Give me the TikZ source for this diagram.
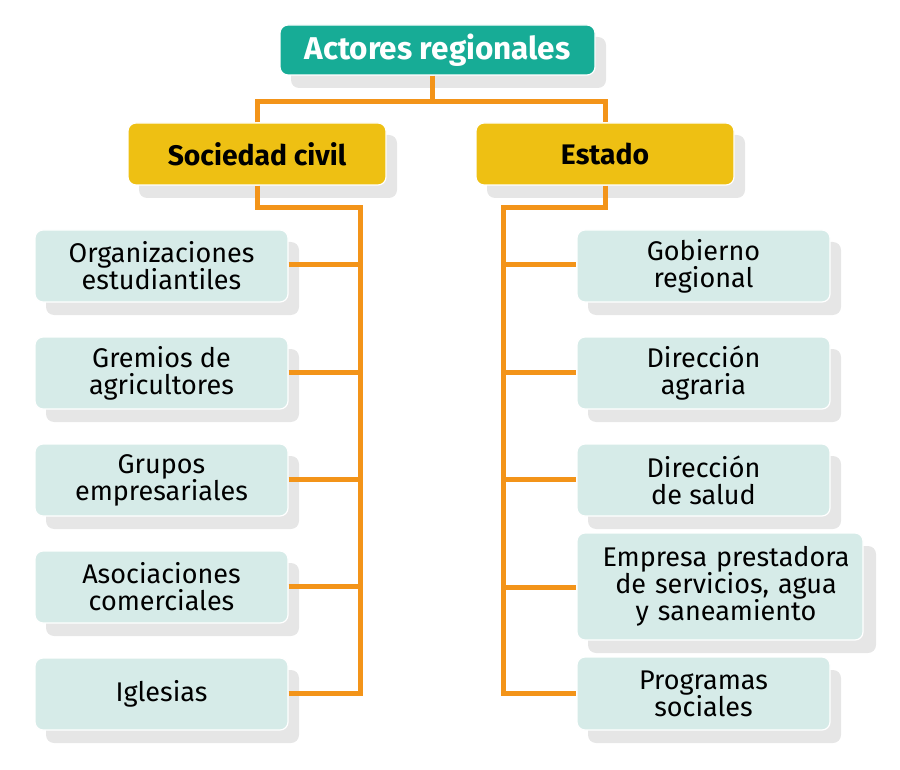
\documentclass[tikz,border=0pt]{standalone}
\usepackage{fontspec}
\setmainfont{Fira Sans}
\definecolor{teal1}{HTML}{17AC96}
\definecolor{yel}{HTML}{EEC013}
\definecolor{lbox}{HTML}{D6EBE8}
\definecolor{shad}{HTML}{E6E6E6}
\definecolor{org}{HTML}{F39419}
\tikzset{
  x=1pt,y=-1pt,
  boxbase/.style={rounded corners=8pt, draw=white, line width=1.2pt, inner sep=0pt, align=center},
  shadowbox/.style={fill=shad, rounded corners=8pt},
  leafbox/.style={boxbase, fill=lbox, minimum width=253pt, minimum height=72pt, font=\fontsize{27}{27}\selectfont},
  midbox/.style={boxbase, fill=yel, minimum width=258pt, minimum height=62pt, font=\bfseries\fontsize{28.3}{30}\selectfont},
  topbox/.style={boxbase, fill=teal1, text=white, minimum width=315pt, minimum height=50pt, font=\bfseries\fontsize{31.5}{33}\selectfont},
  conn/.style={draw=org, line width=5pt}
}
\begin{document}
\begin{tikzpicture}
\useasboundingbox (0,0) rectangle (900,770);
% shadows
\fill[shadowbox] (291,37) rectangle (606,88);
\fill[shadowbox] (139,135) rectangle (397,198);
\fill[shadowbox] (487,135) rectangle (745,198);
\foreach \y in {230,337,444,551,658}{
  \fill[shadowbox] (46,\y+12) rectangle (299,\y+85);
}
\foreach \y in {230,337,444}{
  \fill[shadowbox] (588,\y+12) rectangle (841,\y+85);
}
\fill[shadowbox] (588,546) rectangle (876,653);
\fill[shadowbox] (588,670) rectangle (841,743);
% junction points
\coordinate (tj) at (432,102);
\coordinate (lj) at (360,208);
\coordinate (rj) at (503,208);
\node[topbox] (top) at (437.5,50) {Actores regionales};
\node[midbox] (sc) at (257,154) {Sociedad civil};
\node[midbox] (es) at (605,154) {Estado};
\node[leafbox] (l1) at (161.5,266) {Organizaciones\\estudiantiles};
\node[leafbox] (l2) at (161.5,373) {Gremios de\\agricultores};
\node[leafbox] (l3) at (161.5,480) {Grupos\\empresariales};
\node[leafbox] (l4) at (161.5,587) {Asociaciones\\comerciales};
\node[leafbox] (l5) at (161.5,694) {Iglesias};
\node[leafbox] (r1) at (703.5,266) {Gobierno\\regional};
\node[leafbox] (r2) at (703.5,373) {Dirección\\agraria};
\node[leafbox] (r3) at (703.5,480) {Dirección\\de salud};
\node[leafbox, minimum width=286pt, minimum height=107pt, text width=286pt, xshift=0pt] (r4) at (720,586.5) {\hspace*{12pt}Empresa prestadora\\\hspace*{12pt}de servicios, agua\\\hspace*{12pt}y saneamiento};
\node[leafbox, minimum height=73pt] (r5) at (703.5,693.5) {Programas\\sociales};
\draw[conn] (tj |- top.south) -- (tj);
\draw[conn] (sc.north) |- (tj) -| (es.north);
\draw[conn] (sc.south) |- (lj) -- (360,695.5);
\draw[conn] (es.south) |- (rj) -- (503,695.5);
\foreach \n/\y in {l1/265,l2/372,l3/479,l4/586,l5/693}{
  \draw[conn] (\n.east |- 0,\y) -- (360,\y);
}
\foreach \n/\y in {r1/265,r2/372,r3/479,r4/587,r5/693}{
  \draw[conn] (503,\y) -- (\n.west |- 0,\y);
}
\end{tikzpicture}
\end{document}
